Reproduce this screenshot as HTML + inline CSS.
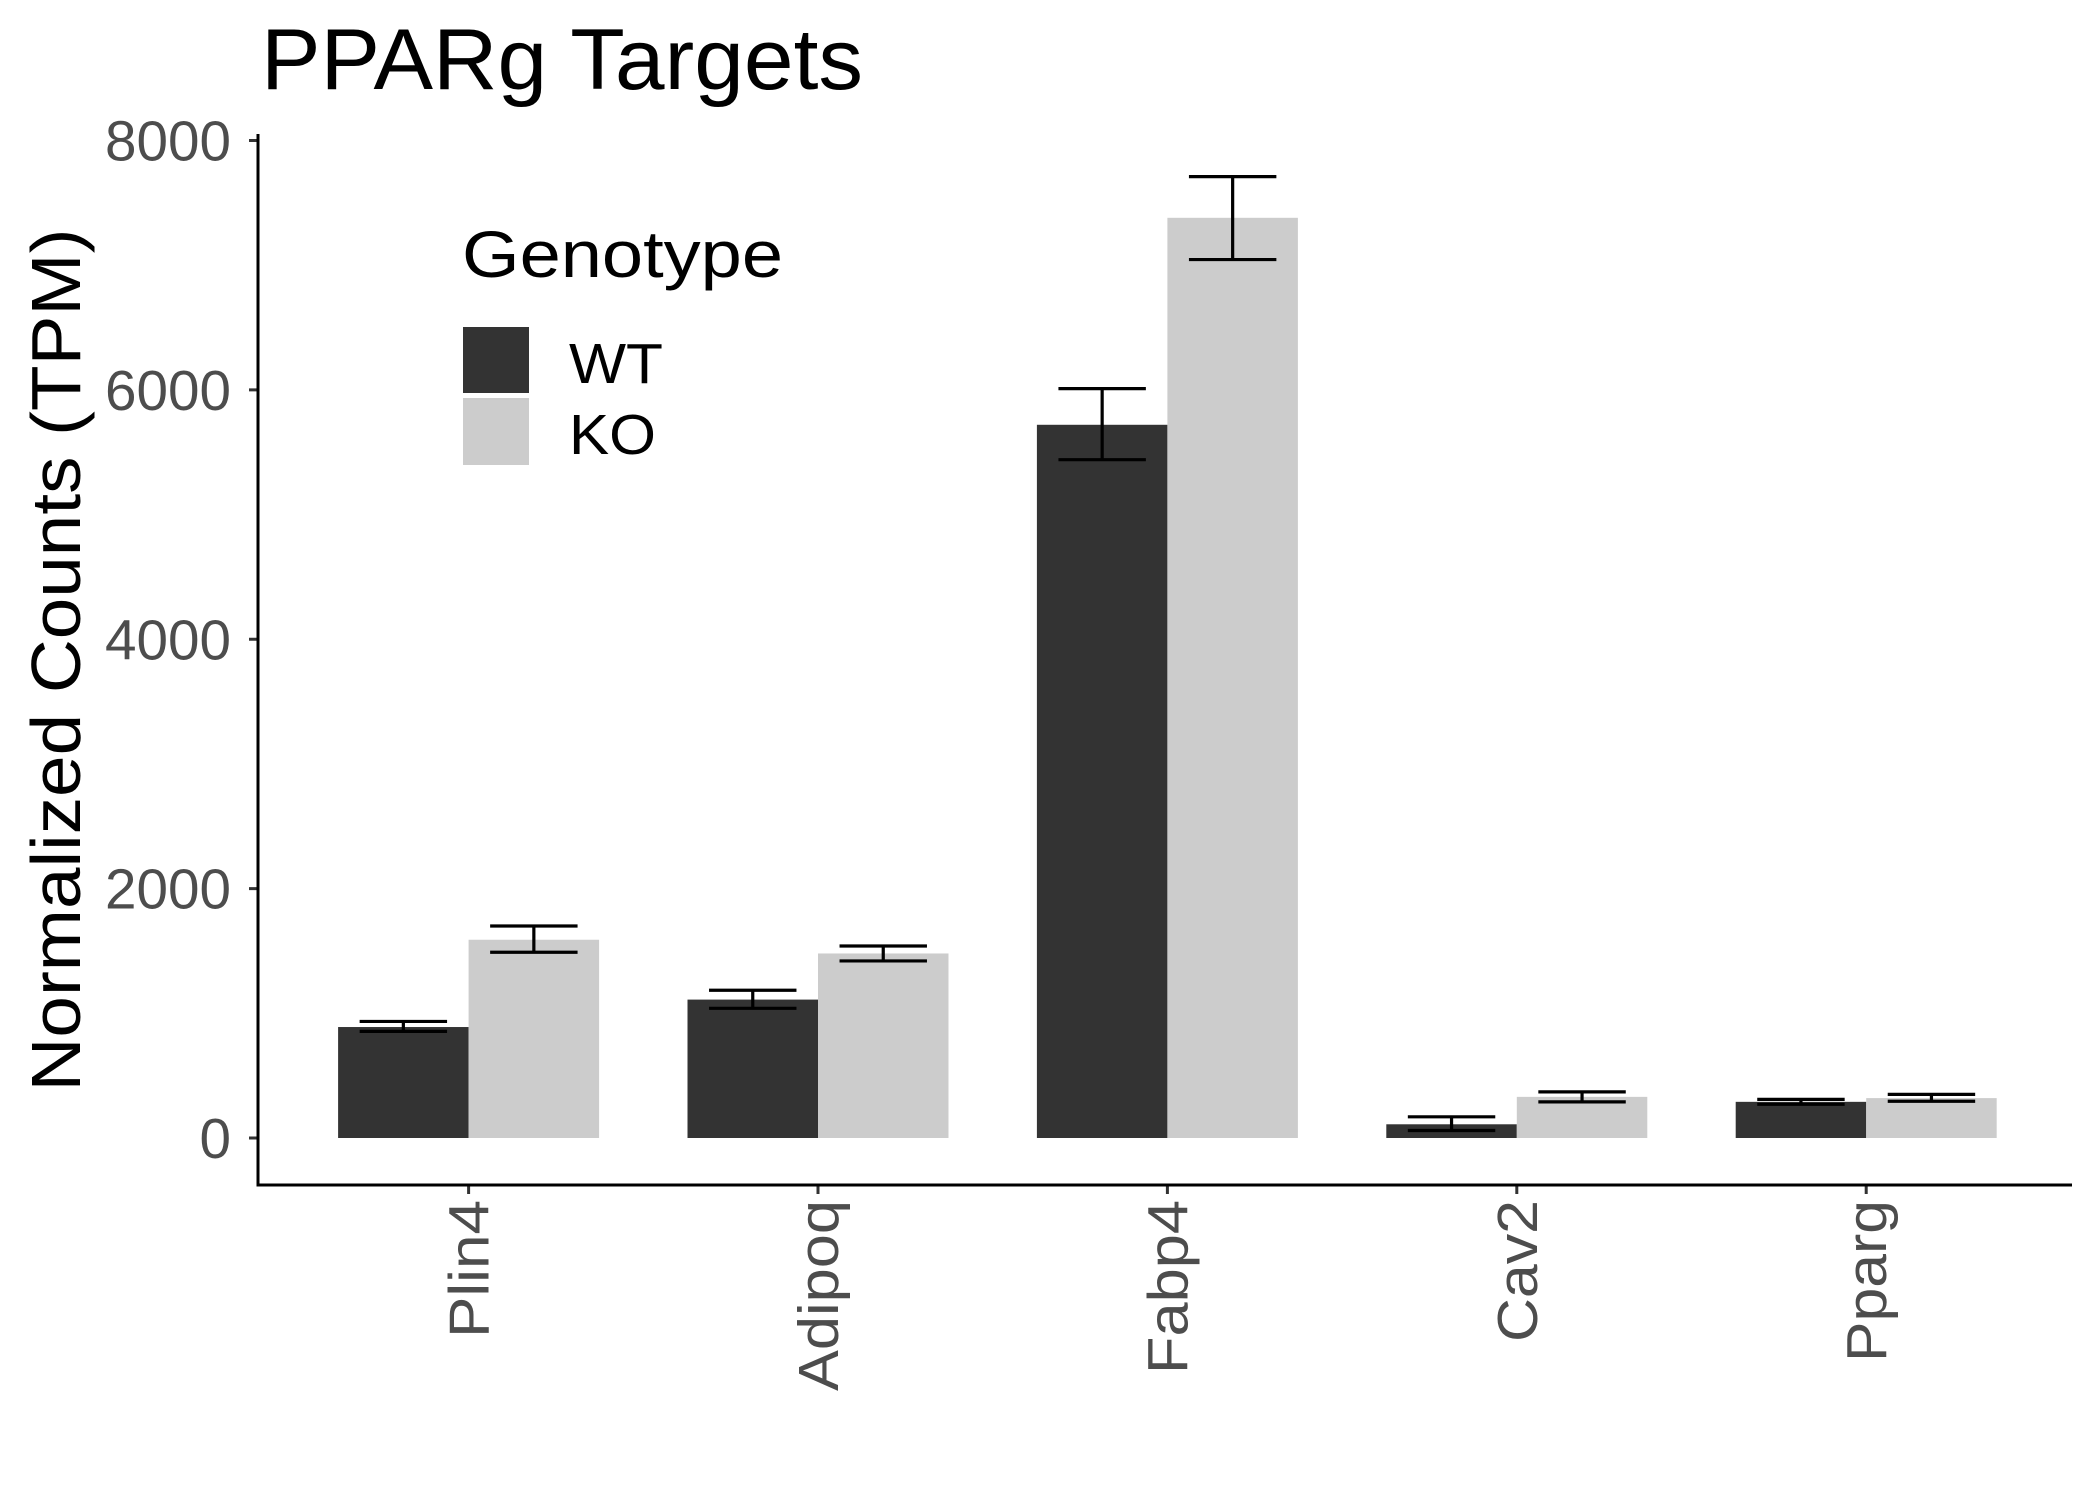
<!DOCTYPE html>
<html><head><meta charset="utf-8"><style>
html,body{margin:0;padding:0;background:#fff;}
svg{display:block;font-family:"Liberation Sans",sans-serif;}
</style></head><body>
<svg id="chart" width="2099" height="1499" viewBox="0 0 2099 1499">
<text x="261" y="89" font-size="86" textLength="602" lengthAdjust="spacingAndGlyphs" fill="#000">PPARg Targets</text>
<text transform="translate(80,660) rotate(-90)" text-anchor="middle" font-size="70" textLength="863" lengthAdjust="spacingAndGlyphs" fill="#000">Normalized Counts (TPM)</text>
<g id="plot"></g>
<g>
<text x="462" y="277" font-size="66" textLength="321" lengthAdjust="spacingAndGlyphs" fill="#000">Genotype</text>
<rect x="463" y="327" width="66" height="66" fill="#333333"/>
<rect x="463" y="398" width="66" height="67" fill="#cccccc"/>
<text x="569" y="383" font-size="57" textLength="94" lengthAdjust="spacingAndGlyphs" fill="#000">WT</text>
<text x="569" y="454" font-size="57" textLength="87" lengthAdjust="spacingAndGlyphs" fill="#000">KO</text>
</g>
</svg>
<script>
const categories = ["Plin4","Adipoq","Fabp4","Cav2","Pparg"];
const wtValues = [890, 1110, 5720, 110, 290];
const wtLow = [855, 1040, 5440, 60, 270];
const wtHigh = [935, 1185, 6010, 170, 310];
const koValues = [1590, 1480, 7380, 330, 320];
const koLow = [1490, 1420, 7045, 290, 295];
const koHigh = [1700, 1540, 7710, 370, 350];
const yTicks = [0, 2000, 4000, 6000, 8000];
const labelLengths = {Plin4: 138, Adipoq: 191, Fabp4: 174, Cav2: 142, Pparg: 162};

const NS = "http://www.w3.org/2000/svg";
const g = document.getElementById("plot");
const x0 = 258, xEnd = 2072, yAxisTop = 134, xAxisY = 1185;
const y = v => 1138 - v * (1138 - 140.5) / 8000;
const step = 349.4, firstCenter = 468.6;
const xc = i => firstCenter + i * step;
const bw = 130.5;
function el(tag, attrs){ const e = document.createElementNS(NS, tag); for (const k in attrs) e.setAttribute(k, attrs[k]); g.appendChild(e); return e; }

categories.forEach((c, i) => {
  [[wtValues, wtLow, wtHigh, "#333333", -1, "wt"], [koValues, koLow, koHigh, "#cccccc", 0, "ko"]].forEach(([vals, lo, hi, col, off, nm]) => {
    const bx = xc(i) + off * bw;
    const r = el("rect", {x: bx, y: y(vals[i]), width: bw, height: y(0) - y(vals[i]), fill: col});
    
    
    const cx = bx + bw / 2, hw = bw * 0.335;
    const e = el("path", {d: `M${cx-hw},${y(hi[i])}H${cx+hw}M${cx},${y(hi[i])}V${y(lo[i])}M${cx-hw},${y(lo[i])}H${cx+hw}`, stroke: "#000", "stroke-width": 3.2, fill: "none"});
    
    
  });
  const t = el("line", {x1: xc(i), x2: xc(i), y1: xAxisY, y2: xAxisY + 9, stroke: "#333", "stroke-width": 3});
  
  
  const lab = el("text", {transform: `translate(${xc(i) + 20},${xAxisY + 15}) rotate(-90)`, "text-anchor": "end", "font-size": 57, fill: "#4d4d4d", textLength: labelLengths[c], lengthAdjust: "spacingAndGlyphs"});
  lab.textContent = c;
  
  
});
yTicks.forEach(v => {
  const t = el("line", {x1: x0 - 9, x2: x0, y1: y(v), y2: y(v), stroke: "#333", "stroke-width": 3});
  
  
  const s = String(v);
  const lab = el("text", {x: x0 - 27, y: y(v) + 20, "text-anchor": "end", "font-size": 57, fill: "#4d4d4d", textLength: s.length * 31.5, lengthAdjust: "spacingAndGlyphs"});
  lab.textContent = s;
  
  
});
const ya = el("line", {x1: x0, x2: x0, y1: yAxisTop, y2: xAxisY + 1.5, stroke: "#000", "stroke-width": 3});


const xa = el("line", {x1: x0 - 1.5, x2: xEnd, y1: xAxisY, y2: xAxisY, stroke: "#000", "stroke-width": 3});


</script>
</body></html>
